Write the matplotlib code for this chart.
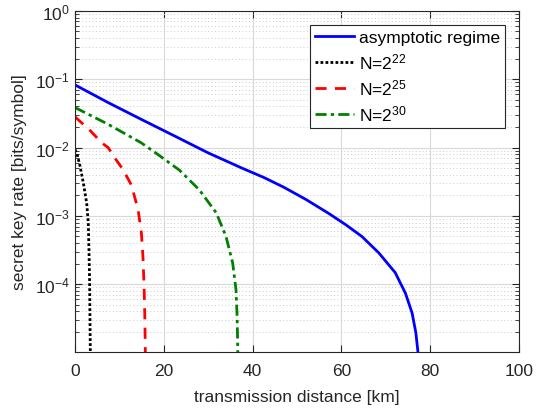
import numpy as np
import matplotlib
matplotlib.use("Agg")
import matplotlib.pyplot as plt
from matplotlib.ticker import FixedLocator, LogFormatterMathtext, NullFormatter

plt.rcParams['font.family'] = ['Liberation Sans', 'DejaVu Sans']
plt.rcParams['mathtext.fontset'] = 'custom'
plt.rcParams['mathtext.rm'] = 'Liberation Sans'
plt.rcParams['mathtext.it'] = 'Liberation Sans'
plt.rcParams['mathtext.bf'] = 'Liberation Sans'

# distances [km] and secret key rates [bits/symbol]
asym_x = [0, 7.47, 14.9, 22.4, 29.9, 37.4, 42.6, 47.0, 52.0, 57.2, 60.9, 64.6,
          68.4, 72.1, 74.4, 75.9, 76.75, 77.2, 77.4]
asym_y = [0.0826, 0.0455, 0.0259, 0.0148, 0.00841, 0.00507, 0.00363, 0.00263,
          0.00174, 0.00108, 7.48e-4, 5.0e-4, 2.88e-4, 1.48e-4, 7.4e-5, 3.8e-5,
          1.95e-5, 1.05e-5, 1e-6]

n22_x = [0, 0.4, 1.12, 1.87, 2.62, 2.99, 3.14, 3.29, 3.36, 3.44, 3.47]
n22_y = [0.0093, 0.0083, 0.0054, 0.00305, 0.00155, 7.9e-4, 3.2e-4, 1.05e-4,
         3.4e-5, 1.1e-5, 1e-6]

n25_x = [0, 3.5, 6.0, 7.47, 8.6, 10.8, 12.7, 14.2, 14.95, 15.3, 15.55, 15.7,
         15.82, 15.85]
n25_y = [0.0282, 0.0175, 0.01175, 0.0100, 0.00759, 0.00479, 0.00282, 0.00124,
         5.6e-4, 2.5e-4, 9.3e-5, 3.8e-5, 1.23e-5, 1e-6]

n30_x = [0, 7.47, 14.9, 19.06, 23.5, 28.0, 31.8, 34.0, 35.5, 36.25, 36.5,
         36.65, 36.7]
n30_y = [0.0385, 0.0219, 0.01175, 0.00759, 0.00468, 0.0024, 0.00111, 5.0e-4,
         2.05e-4, 8.3e-5, 3.4e-5, 1.1e-5, 1e-6]

xticks = [0, 20, 40, 60, 80, 100]
yticks = [1e-4, 1e-3, 1e-2, 1e-1, 1e0]

fig = plt.figure(figsize=(5.37, 4.14), dpi=100)
ax = fig.add_axes([0.1397, 0.1473, 0.827, 0.824])

ax.semilogy(asym_x, asym_y, color='#0000ff', lw=2.0, label='asymptotic regime')
ax.semilogy(n22_x, n22_y, color='black', lw=2.0, ls=(0, (1, 0.8)), label='N=$2^{22}$')
ax.semilogy(n25_x, n25_y, color='#ff0000', lw=2.0, ls=(0, (4, 3)), label='N=$2^{25}$')
ax.semilogy(n30_x, n30_y, color='#008000', lw=2.0, ls=(0, (4, 1.5, 1.2, 1.5)), label='N=$2^{30}$')

ax.set_xlim(0, 100)
ax.set_ylim(1.02e-5, 1)
ax.set_xticks(xticks)
ax.yaxis.set_major_locator(FixedLocator(yticks))
ax.yaxis.set_major_formatter(LogFormatterMathtext())
minor = [m * 10.0 ** e for e in range(-5, 0) for m in range(2, 10)]
ax.yaxis.set_minor_locator(FixedLocator(minor))
ax.yaxis.set_minor_formatter(NullFormatter())

ax.grid(True, which='major', color='#d9d9d9', lw=0.8, ls='-')
ax.grid(True, which='minor', axis='y', color='#cccccc', lw=0.7, ls=(0, (1, 2.5)))
ax.set_axisbelow(True)

for s in ax.spines.values():
    s.set_color('#262626')
    s.set_linewidth(0.8)
ax.tick_params(which='both', direction='in', top=True, right=True, colors='#262626',
               labelsize=12.5)
ax.tick_params(which='major', length=5)
ax.tick_params(which='minor', length=3)
ax.tick_params(axis='x', pad=8)

ax.set_xlabel('transmission distance [km]', fontsize=12.5, color='#262626', labelpad=8)
ax.set_ylabel('secret key rate [bits/symbol]', fontsize=12.5, color='#262626', labelpad=6)

leg = ax.legend(loc='upper right', fontsize=12.5, frameon=True, fancybox=False,
                edgecolor='#262626', framealpha=1, handlelength=2.2, handletextpad=0.3,
                borderpad=0.3, labelspacing=0.35, borderaxespad=0.8)
leg.get_frame().set_linewidth(0.8)

fig.savefig('out.png', dpi=100)
